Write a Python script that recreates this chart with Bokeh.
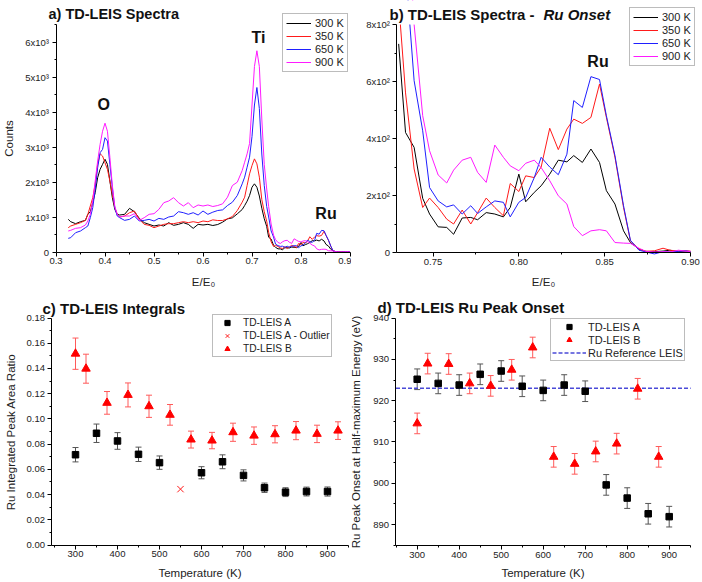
import numpy as np
from bokeh.plotting import figure
from bokeh.layouts import gridplot
from bokeh.models import (Range1d, FixedTicker, Legend, LegendItem, Label,
                          Whisker, ColumnDataSource, TeeHead, NumeralTickFormatter)
from bokeh.embed import file_html
from bokeh.resources import INLINE

FONT = "Liberation Sans"

# ---------------- Spectra (panels a and b) ----------------
e_main = [0.325, 0.330, 0.340, 0.350, 0.360, 0.365, 0.370, 0.375, 0.380, 0.385,
          0.390, 0.395, 0.400, 0.405, 0.410, 0.415, 0.420, 0.425, 0.430, 0.440,
          0.450, 0.460, 0.470, 0.480, 0.490, 0.500, 0.510, 0.520, 0.530, 0.540,
          0.550, 0.560, 0.570, 0.580, 0.590, 0.600, 0.610, 0.620, 0.630, 0.640,
          0.650, 0.660, 0.670, 0.680, 0.685, 0.690, 0.695, 0.700, 0.705, 0.710,
          0.715, 0.720, 0.725]
counts_300_main = [933, 866, 809, 866, 904, 1076, 1150, 1409, 1695, 2123,
                   2361, 2504, 2650, 2504, 2028, 1552, 1219, 1076, 1057, 1076,
                   1247, 1152, 962, 838, 790, 743, 771, 743, 838, 762,
                   790, 838, 790, 676, 790, 771, 790, 757, 785, 852,
                   947, 976, 1090, 1214, 1328, 1452, 1614, 1852, 1948, 1850,
                   1600, 1250, 950]
counts_350_main = [695, 743, 790, 838, 904, 1076, 1314, 1552, 1933, 2504,
                   2808, 2742, 2551, 2361, 2028, 1647, 1266, 1076, 1000, 1028,
                   1123, 1171, 933, 790, 762, 695, 743, 790, 809, 809,
                   838, 866, 838, 866, 838, 885, 866, 919, 900, 900,
                   947, 1014, 1185, 1423, 1566, 1900, 2233, 2471, 2661, 2519,
                   2138, 1500, 1150]
counts_650_main = [390, 409, 552, 600, 695, 743, 980, 1266, 1790, 2408,
                   2837, 2932, 3266, 3170, 2504, 1837, 1266, 1028, 980, 904,
                   933, 1028, 885, 904, 933, 885, 961, 933, 1000, 1028,
                   1152, 1123, 1076, 1123, 1057, 1171, 1076, 1138, 1185, 1204,
                   1328, 1423, 1614, 1947, 2138, 2423, 2709, 3300, 4200, 4700,
                   4100, 2800, 1900]
counts_900_main = [600, 619, 676, 695, 771, 885, 1076, 1457, 2028, 2599,
                   3075, 3450, 3680, 3450, 2700, 1900, 1300, 1080, 1000, 1028,
                   1028, 1095, 904, 980, 1076, 1095, 1219, 1409, 1457, 1552,
                   1409, 1314, 1409, 1266, 1343, 1314, 1343, 1300, 1328, 1376,
                   1566, 1900, 1995, 2328, 2566, 2804, 3100, 4200, 5300, 5750,
                   5300, 3800, 2500]

e_ru = [0.730, 0.734, 0.739, 0.744, 0.748, 0.753, 0.758, 0.762, 0.767, 0.772,
        0.776, 0.781, 0.786, 0.791, 0.795, 0.800, 0.804, 0.809, 0.813, 0.818,
        0.823, 0.828, 0.832, 0.837, 0.842, 0.847, 0.851, 0.856, 0.861, 0.865,
        0.870, 0.874, 0.879, 0.884, 0.888, 0.893, 0.897, 0.900]
counts_300_ru = [732, 421, 369, 190, 135, 90, 88, 64, 121, 123,
                 115, 140, 135, 125, 158, 275, 178, 211, 234, 275,
                 324, 318, 340, 316, 363, 316, 217, 170, 76, 35,
                 12, 4, 3, 5, 8, 3, 2, 2]
counts_350_ru = [880, 560, 293, 158, 191, 158, 117, 100, 149, 100,
                 140, 191, 158, 129, 242, 214, 269, 263, 300, 436,
                 361, 433, 468, 453, 474, 591, 474, 334, 158, 41,
                 12, 4, 6, 15, 8, 5, 6, 5]
counts_650_ru = [1300, 1000, 603, 427, 228, 181, 160, 167, 135, 164,
                 137, 160, 181, 176, 125, 176, 193, 263, 334, 300,
                 273, 345, 533, 509, 617, 607, 480, 340, 164, 43,
                 8, 2, -5, 3, 2, 4, 6, 3]
counts_900_ru = [1800, 1300, 800, 480, 357, 272, 244, 289, 324, 334,
                 281, 246, 377, 334, 304, 287, 313, 324, 298, 252,
                 199, 170, 91, 59, 76, 80, 76, 35, 33, 32,
                 15, 4, 2, 3, 2, 8, 5, 3]

spectra_labels = ["300 K", "350 K", "650 K", "900 K"]
spectra_colors = ["#000000", "#ff1a1a", "#1f1fff", "#ff1aff"]

# ---------------- Integrals (panel c) ----------------
temp_a = [300, 350, 400, 450, 500, 600, 650, 700, 750, 800, 850, 900]
ratio_a = [0.0716, 0.0886, 0.0825, 0.0719, 0.0653, 0.0573, 0.0660, 0.0552,
           0.0454, 0.0419, 0.0424, 0.0424]
ratio_a_err = [0.0057, 0.0073, 0.0066, 0.0057, 0.0053, 0.0048, 0.0055, 0.0044,
               0.0037, 0.0035, 0.0035, 0.0036]
temp_outlier = [550]
ratio_outlier = [0.0443]
temp_b = [300, 325, 375, 425, 475, 525, 575, 625, 675, 725, 775, 825, 875, 925]
ratio_b = [0.1517, 0.1398, 0.1127, 0.1190, 0.1100, 0.1032, 0.0836, 0.0828,
           0.0894, 0.0867, 0.0878, 0.0907, 0.0881, 0.0907]
ratio_b_err = [0.0124, 0.0115, 0.0090, 0.0095, 0.0088, 0.0082, 0.0067, 0.0065,
               0.0072, 0.0069, 0.0068, 0.0072, 0.0069, 0.0070]

# ---------------- Onset (panel d) ----------------
onset_temp_a = [300, 350, 400, 450, 500, 550, 600, 650, 700, 750, 800, 850, 900]
onset_a = [925.2, 924.2, 923.8, 926.4, 927.2, 923.5, 922.5, 923.8, 922.3,
           899.6, 896.4, 892.6, 891.9]
onset_a_err = [2.5, 2.5, 2.5, 2.5, 2.5, 2.5, 2.5, 2.5, 2.5, 2.5, 2.5, 2.5, 2.5]
onset_temp_b = [300, 325, 375, 425, 475, 525, 575, 625, 675, 725, 775, 825, 875]
onset_b = [914.5, 929.0, 928.9, 924.2, 923.6, 927.5, 932.9, 906.4, 904.7,
           907.7, 909.6, 922.9, 906.4]
onset_b_err = [2.5, 2.5, 2.5, 2.5, 2.5, 2.5, 2.5, 2.5, 2.5, 2.5, 2.5, 2.5, 2.5]
ru_reference = 923.0


class Panel:
    """Figure whose frame fills the canvas; px/py are canvas pixels from top-left."""

    def __init__(self, w, h, xv, xpx, xs, yv, ypy, ys):
        self.w, self.h = w, h
        self.xv, self.xpx, self.xs = xv, xpx, xs
        self.yv, self.ypy, self.ys = yv, ypy, ys
        self.p = figure(width=w, height=h,
                        x_range=Range1d(self.dx(0), self.dx(w)),
                        y_range=Range1d(self.dy(h), self.dy(0)),
                        min_border=0, output_backend="svg", toolbar_location=None)
        p = self.p
        p.grid.visible = False
        p.outline_line_color = None
        p.background_fill_color = "white"
        p.border_fill_color = "white"

    def dx(self, px):
        return self.xv + (px - self.xpx) / self.xs

    def dy(self, py):
        return self.yv + (self.ypy - py) / self.ys

    def axes(self, x_at, y_at, xb, yb, xlabel, ylabel, x_std, y_std):
        p = self.p
        xa, ya = p.xaxis[0], p.yaxis[0]
        xa.fixed_location = y_at
        ya.fixed_location = x_at
        xa.bounds = xb
        ya.bounds = yb
        for ax in (xa, ya):
            ax.axis_line_color = "black"
            ax.major_tick_line_color = "black"
            ax.minor_tick_line_color = "black"
            ax.major_tick_in = 0
            ax.major_tick_out = 4
            ax.minor_tick_in = 0
            ax.minor_tick_out = 2
            ax.major_label_text_font = FONT
            ax.major_label_text_font_size = "9.5px"
            ax.major_label_text_color = "#222222"
            ax.axis_label_text_font = FONT
            ax.axis_label_text_font_style = "normal"
            ax.axis_label_text_font_size = "11.5px"
            ax.axis_label_text_color = "#222222"
        xa.major_label_standoff = 2
        ya.major_label_standoff = 3
        if xlabel:
            xa.axis_label = xlabel
            xa.axis_label_standoff = x_std
        if ylabel:
            ya.axis_label = ylabel
            ya.axis_label_standoff = y_std

    def text(self, px, py, text, size="14.5px", style="bold", align="left",
             baseline="alphabetic"):
        self.p.add_layout(Label(x=self.dx(px), y=self.dy(py), text=text,
                                text_font=FONT, text_font_style=style,
                                text_font_size=size, text_align=align,
                                text_baseline=baseline, text_color="#111111"))


def make_legend(items, loc, pad, spacing, lh, gh, gw, standoff, fs):
    return Legend(items=items, location=loc, padding=pad, spacing=spacing,
                  margin=0, label_height=lh, glyph_height=gh, glyph_width=gw,
                  label_standoff=standoff, label_text_font=FONT,
                  label_text_font_size=fs, label_text_color="#222222",
                  border_line_color="#7a7a7a", border_line_width=1,
                  background_fill_color="white", background_fill_alpha=1)


# ---------------- Panel a ----------------
A = Panel(351, 290, 0.3, 55.5, 490.0, 0.0, 251.5, 0.035)
pa = A.p
A.axes(0.3, 0.0, (0.3, 0.9), (0, 6500), "E/E\u2080", "Counts", 8, 8)
pa.xaxis[0].ticker = FixedTicker(ticks=[0.3, 0.4, 0.5, 0.6, 0.7, 0.8, 0.9],
                                 minor_ticks=[0.35, 0.45, 0.55, 0.65, 0.75, 0.85])
pa.xaxis[0].formatter = NumeralTickFormatter(format="0.0")
pa.yaxis[0].ticker = FixedTicker(ticks=[0, 1000, 2000, 3000, 4000, 5000, 6000],
                                 minor_ticks=[500, 1500, 2500, 3500, 4500, 5500, 6500])
pa.yaxis[0].major_label_overrides = {0: "0", 1000: "1x10³", 2000: "2x10³",
                                     3000: "3x10³", 4000: "4x10³",
                                     5000: "5x10³", 6000: "6x10³"}
e_all = e_main + e_ru
series_main = [counts_300_main, counts_350_main, counts_650_main, counts_900_main]
series_ru = [counts_300_ru, counts_350_ru, counts_650_ru, counts_900_ru]
items_a = []
for lab, col, ym, yr_ in zip(spectra_labels, spectra_colors, series_main, series_ru):
    r = pa.line(e_all, ym + yr_, line_color=col, line_width=1)
    items_a.append(LegendItem(label=lab, renderers=[r]))
pa.add_layout(make_legend(items_a, (282, 218), 3, 1, 12, 12, 25, 4, "11px"))
A.text(48, 13.5, "a) TD-LEIS Spectra")
A.text(103.3, 103.8, "O", size="16px", align="center", baseline="middle")
A.text(258, 36.5, "Ti", size="16px", align="center", baseline="middle")
A.text(325.5, 212.5, "Ru", size="16px", align="center", baseline="middle")

# ---------------- Panel b ----------------
B = Panel(350, 290, 0.75, 81.5, 1716.6, 0.0, 252.0, 0.285)
pb = B.p
B.axes(0.729, 0.0, (0.729, 0.90), (0, 800), "E/E\u2080", None, 8, 0)
pb.xaxis[0].ticker = FixedTicker(ticks=[0.75, 0.80, 0.85, 0.90],
                                 minor_ticks=[0.775, 0.825, 0.875])
pb.xaxis[0].formatter = NumeralTickFormatter(format="0.00")
pb.yaxis[0].ticker = FixedTicker(ticks=[0, 200, 400, 600, 800],
                                 minor_ticks=[100, 300, 500, 700])
pb.yaxis[0].major_label_overrides = {0: "0", 200: "2x10²", 400: "4x10²",
                                     600: "6x10²", 800: "8x10²"}
items_b = []
for lab, col, yr_ in zip(spectra_labels, spectra_colors, series_ru):
    r = pb.line(e_ru, yr_, line_color=col, line_width=1)
    items_b.append(LegendItem(label=lab, renderers=[r]))
# white mask: the reference clips the curves at the top of the 0-800 axis
pb.quad(left=[pb.x_range.start], right=[pb.x_range.end], bottom=[800],
        top=[pb.y_range.end], fill_color="white", line_color=None)
pb.add_layout(make_legend(items_b, (278, 224), 3, 1, 12, 12, 25, 4, "11px"))
B.text(38, 13.5, "b) TD-LEIS Spectra -", size="15px")
B.text(192, 13.5, "Ru Onset", size="15px", style="bold italic")
B.text(246.5, 60.8, "Ru", size="16px", align="center", baseline="middle")

# ---------------- Panel c ----------------
C = Panel(351, 291, 300.0, 75.0, 0.42, 0.0, 254.5, 1261.1)
pc = C.p
C.axes(244.0, 0.0, (244.0, 950), (0, 0.18), "Temperature (K)",
       "Ru Integrated Peak Area Ratio", 6, 6)
pc.xaxis[0].ticker = FixedTicker(ticks=[300, 400, 500, 600, 700, 800, 900],
                                 minor_ticks=[250, 350, 450, 550, 650, 750, 850, 950])
pc.yaxis[0].ticker = FixedTicker(ticks=[0, 0.02, 0.04, 0.06, 0.08, 0.10, 0.12, 0.14, 0.16, 0.18],
                                 minor_ticks=[0.01, 0.03, 0.05, 0.07, 0.09, 0.11, 0.13, 0.15, 0.17])
pc.yaxis[0].formatter = NumeralTickFormatter(format="0.00")

GRAY = "#555555"
LRED = "#ff5a5a"


def errbars(p, src, col):
    p.add_layout(Whisker(source=src, base="x", lower="lo", upper="hi",
                         dimension="height", line_color=col, line_width=1,
                         level="underlay",
                         lower_head=TeeHead(size=6, line_color=col, line_width=1),
                         upper_head=TeeHead(size=6, line_color=col, line_width=1)))


src_ca = ColumnDataSource(dict(x=temp_a, y=ratio_a,
                               lo=np.array(ratio_a) - np.array(ratio_a_err),
                               hi=np.array(ratio_a) + np.array(ratio_a_err)))
src_cb = ColumnDataSource(dict(x=temp_b, y=ratio_b,
                               lo=np.array(ratio_b) - np.array(ratio_b_err),
                               hi=np.array(ratio_b) + np.array(ratio_b_err)))
errbars(pc, src_ca, GRAY)
errbars(pc, src_cb, LRED)
rca = pc.scatter("x", "y", source=src_ca, marker="square", size=6.5,
                 fill_color="black", line_color="black")
rco = pc.scatter(temp_outlier, ratio_outlier, marker="x", size=9,
                 line_color="#ff1a1a", line_width=1)
rcb = pc.scatter("x", "y", source=src_cb, marker="triangle", size=8.5,
                 fill_color="#ff0000", line_color="#ff0000")
pc.add_layout(make_legend([LegendItem(label="TD-LEIS A", renderers=[rca]),
                           LegendItem(label="TD-LEIS A - Outlier", renderers=[rco]),
                           LegendItem(label="TD-LEIS B", renderers=[rcb])],
                          (212, 224), 1, 0, 13, 13, 26, 3, "10.2px"))
C.text(42, 18, "c) TD-LEIS Integrals", size="15px")

# ---------------- Panel d ----------------
D = Panel(350, 291, 300.0, 65.7, 0.42, 940.0, 27.7, 4.126)
pd_ = D.p
D.axes(249.5, 884.9, (249.5, 951), (884.9, 940), "Temperature (K)",
       "Ru Peak Onset at Half-maximum Energy (eV)", 6, 8)
pd_.xaxis[0].ticker = FixedTicker(ticks=[300, 400, 500, 600, 700, 800, 900],
                                  minor_ticks=[250, 350, 450, 550, 650, 750, 850, 950])
pd_.yaxis[0].ticker = FixedTicker(ticks=[890, 900, 910, 920, 930, 940],
                                  minor_ticks=[885, 895, 905, 915, 925, 935])
src_da = ColumnDataSource(dict(x=onset_temp_a, y=onset_a,
                               lo=np.array(onset_a) - np.array(onset_a_err),
                               hi=np.array(onset_a) + np.array(onset_a_err)))
src_db = ColumnDataSource(dict(x=onset_temp_b, y=onset_b,
                               lo=np.array(onset_b) - np.array(onset_b_err),
                               hi=np.array(onset_b) + np.array(onset_b_err)))
errbars(pd_, src_da, GRAY)
errbars(pd_, src_db, LRED)
xb_d = pd_.xaxis[0].bounds
rref = pd_.line([xb_d[0], xb_d[1]], [ru_reference, ru_reference],
                line_color="#4a4ad8", line_width=1.5, line_dash="4 2")
rda = pd_.scatter("x", "y", source=src_da, marker="square", size=6.5,
                  fill_color="black", line_color="black")
rdb = pd_.scatter("x", "y", source=src_db, marker="triangle", size=8.5,
                  fill_color="#ff0000", line_color="#ff0000")
pd_.add_layout(make_legend([LegendItem(label="TD-LEIS A", renderers=[rda]),
                            LegendItem(label="TD-LEIS B", renderers=[rdb]),
                            LegendItem(label="Ru Reference LEIS", renderers=[rref])],
                           (199, 220), 1, 0, 13, 13, 34, 2, "11px"))
D.text(26, 16.5, "d) TD-LEIS Ru Peak Onset", size="15px")

grid = gridplot([[pa, pb], [pc, pd_]], toolbar_location=None)
open("out.html", "w").write(file_html(grid, INLINE))
